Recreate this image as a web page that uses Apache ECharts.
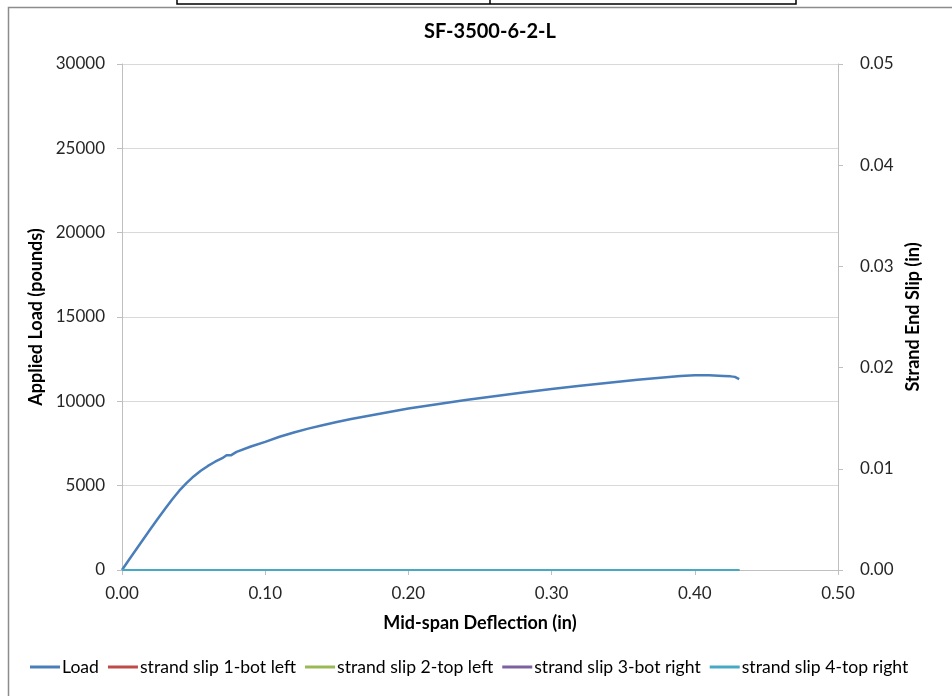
<!DOCTYPE html>
<html>
<head>
<meta charset="utf-8">
<script src="https://cdn.jsdelivr.net/npm/echarts@6/dist/echarts.min.js"></script>
<style>
html,body{margin:0;padding:0;background:#fff;}
#chart{width:952px;height:696px;}
</style>
</head>
<body>
<div id="chart"></div>
<script>
var titleText = "SF-3500-6-2-L";
var seriesNames = ["Load", "strand slip 1-bot left", "strand slip 2-top left", "strand slip 3-bot right", "strand slip 4-top right"];

var deflection = [0, 0.005, 0.010, 0.015, 0.020, 0.025, 0.030, 0.035, 0.040, 0.045, 0.050, 0.055, 0.060, 0.065, 0.070, 0.073, 0.076, 0.080, 0.090, 0.100, 0.110, 0.120, 0.130, 0.140, 0.150, 0.160, 0.180, 0.200, 0.220, 0.240, 0.260, 0.280, 0.300, 0.320, 0.340, 0.360, 0.380, 0.390, 0.400, 0.410, 0.420, 0.425, 0.428, 0.431];
var load = [0, 620, 1230, 1840, 2440, 3040, 3620, 4180, 4700, 5150, 5550, 5880, 6170, 6420, 6630, 6800, 6800, 7000, 7320, 7600, 7900, 8150, 8380, 8580, 8770, 8950, 9260, 9570, 9830, 10080, 10300, 10520, 10730, 10920, 11100, 11280, 11430, 11500, 11540, 11540, 11500, 11480, 11450, 11320];

var slipDefl = [0, 0.02, 0.05, 0.10, 0.20, 0.30, 0.40, 0.431];
var slip1 = [0, 0, 0, 0, 0, 0, 0, 0];
var slip2 = [0, 0, 0, 0, 0, 0, 0, 0];
var slip3 = [0, 0, 0, 0, 0, 0, 0, 0];
var slip4 = [0, 0, 0, 0, 0, 0, 0, 0];

var xTicks = {min: 0, max: 0.5, interval: 0.1};
var yTicks = {min: 0, max: 30000, interval: 5000};
var y2Ticks = {min: 0, max: 0.05, interval: 0.01};

function pairs(xs, ys) { return xs.map(function (x, i) { return [x, ys[i]]; }); }

var colors = ["#4a7ebb", "#be4b48", "#98b954", "#7d60a0", "#46aac5"];
var FONT = "Lato";
var chart = echarts.init(document.getElementById("chart"), null, {renderer: "canvas"});

var slipData = [slip1, slip2, slip3, slip4];
var series = [{
  name: seriesNames[0], type: "line", data: pairs(deflection, load),
  xAxisIndex: 0, yAxisIndex: 0, showSymbol: false, symbol: "none",
  lineStyle: {width: 2.5, color: colors[0]}, itemStyle: {color: colors[0]}, z: 5
}];
for (var k = 0; k < 4; k++) {
  series.push({
    name: seriesNames[k + 1], type: "line", data: pairs(slipDefl, slipData[k]),
    xAxisIndex: 0, yAxisIndex: 1, showSymbol: false, symbol: "none",
    lineStyle: {width: 2, color: colors[k + 1]}, itemStyle: {color: colors[k + 1]}, z: 6 + k
  });
}

var axisLineStyle = {show: true, lineStyle: {color: "#bfbfbf", width: 1}};
var tickStyle = {show: true, length: 5, inside: false, lineStyle: {color: "#bfbfbf"}};
var labelStyle = {color: "#262626", fontFamily: FONT, fontSize: 17};
var nameStyle = {color: "#000", fontFamily: FONT, fontSize: 18, fontWeight: "bold"};

chart.setOption({
  animation: false,
  backgroundColor: "#fff",
  title: {
    text: titleText, left: 485, top: 17, textAlign: "center",
    textStyle: {fontFamily: FONT, fontSize: 20, fontWeight: "bold", color: "#000"}
  },
  grid: {left: 122, right: 114, top: 64, bottom: 126, containLabel: false},
  legend: {
    data: seriesNames, left: 25, top: 653, icon: "rect", itemWidth: 30, itemHeight: 3,
    itemGap: 9, textStyle: {fontFamily: FONT, fontSize: 17.6, color: "#000", padding: [0, 0, 0, -3]}
  },
  xAxis: [{
    type: "value", min: xTicks.min, max: xTicks.max, interval: xTicks.interval,
    name: "Mid-span Deflection (in)", nameLocation: "middle", nameGap: 44, nameTextStyle: nameStyle,
    axisLine: axisLineStyle, axisTick: tickStyle, splitLine: {show: false},
    axisLabel: Object.assign({formatter: function (v) { return v.toFixed(2); }, margin: 15}, labelStyle)
  }],
  yAxis: [{
    type: "value", min: yTicks.min, max: yTicks.max, interval: yTicks.interval, position: "left",
    name: "Applied Load (pounds)", nameLocation: "middle", nameGap: 72, nameRotate: 90, nameTextStyle: nameStyle,
    axisLine: axisLineStyle, axisTick: tickStyle,
    splitLine: {show: true, lineStyle: {color: "#d9d9d9", width: 1}},
    axisLabel: Object.assign({margin: 17, formatter: function (v) { return String(v); }}, labelStyle)
  }, {
    type: "value", min: y2Ticks.min, max: y2Ticks.max, interval: y2Ticks.interval, position: "right",
    name: "Strand End Slip (in)", nameLocation: "middle", nameGap: 66, nameRotate: 90, nameTextStyle: nameStyle,
    axisLine: axisLineStyle, axisTick: tickStyle, splitLine: {show: false},
    axisLabel: Object.assign({margin: 22, formatter: function (v) { return v.toFixed(2); }}, labelStyle)
  }],
  series: series,
  graphic: [
    {type: "rect", shape: {x: 8.5, y: 7.5, width: 1200, height: 1200}, style: {fill: "none", stroke: "#8c8c8c", lineWidth: 1.5}, silent: true, z: -1},
    {type: "polyline", shape: {points: [[177, 0], [177, 4], [796, 4], [796, 0]]}, style: {fill: "none", stroke: "#000", lineWidth: 1.5}, silent: true},
    {type: "line", shape: {x1: 490, y1: 0, x2: 490, y2: 4}, style: {stroke: "#000", lineWidth: 1.5}, silent: true}
  ]
});
</script>
</body>
</html>
